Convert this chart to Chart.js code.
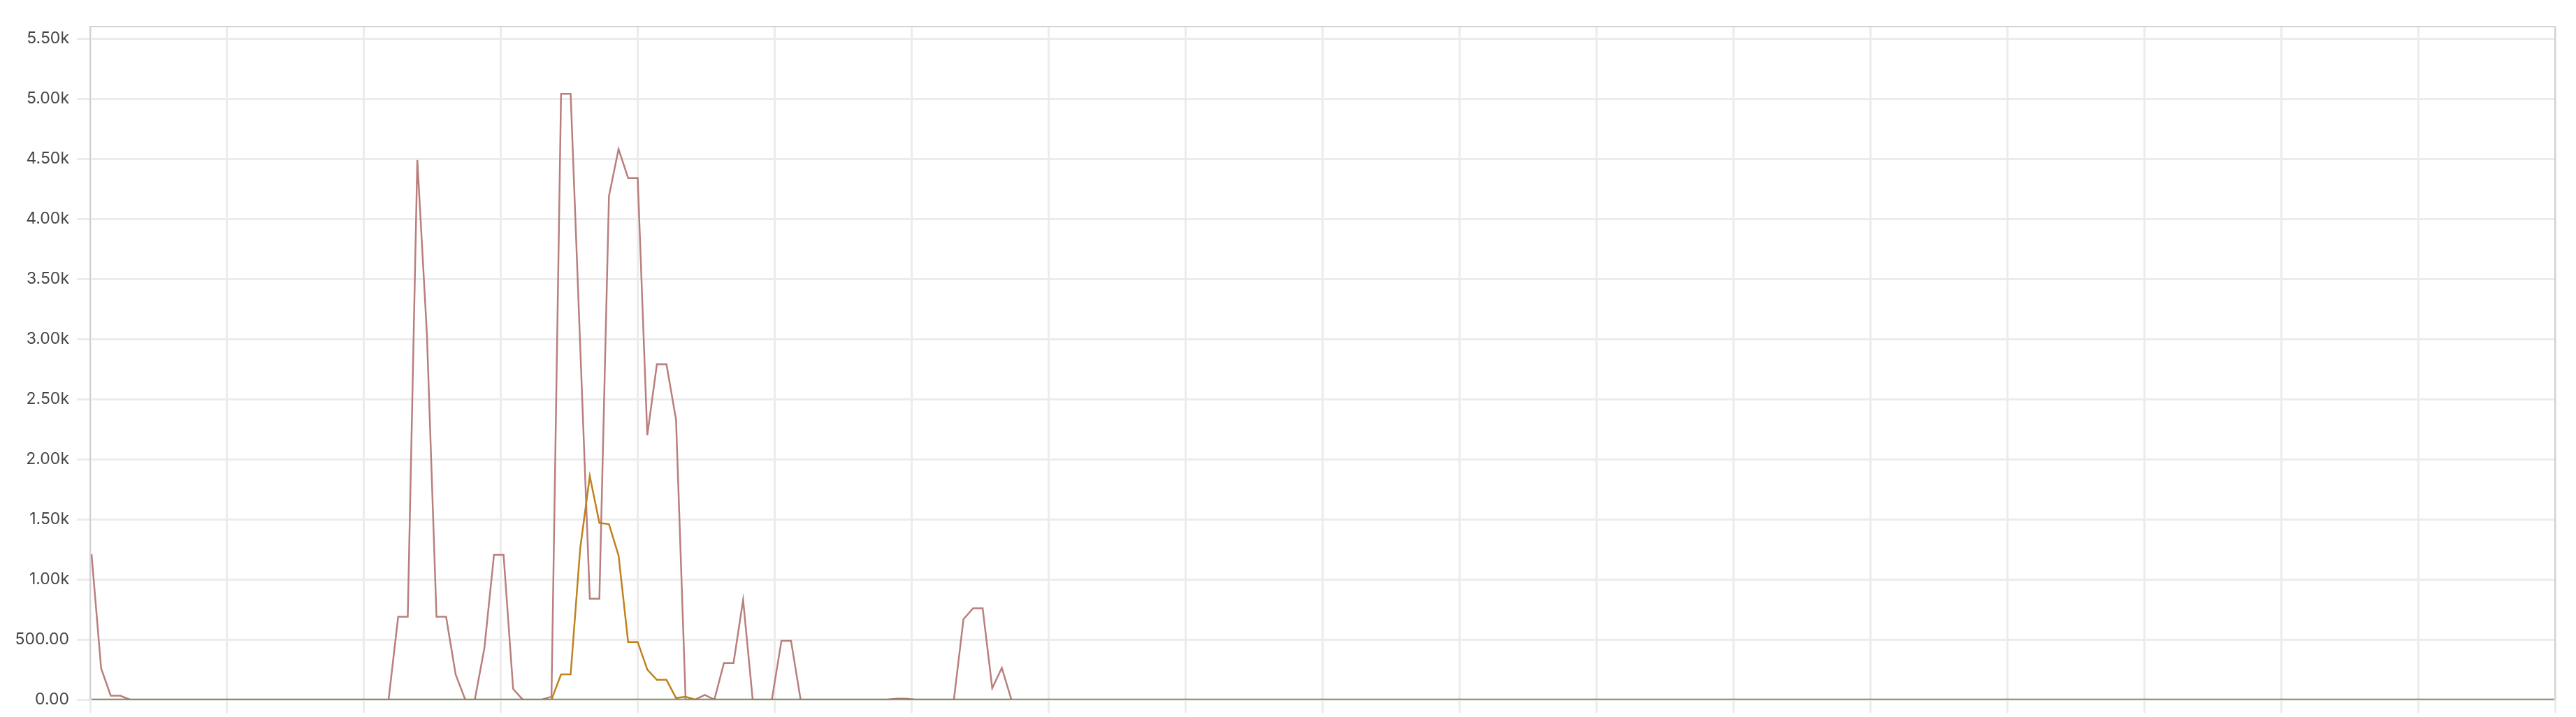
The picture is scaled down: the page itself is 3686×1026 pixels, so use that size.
<!DOCTYPE html>
<html>
<head>
<meta charset="utf-8">
<script src="https://cdn.jsdelivr.net/npm/chart.js@4/dist/chart.umd.min.js"></script>
<style>
html, body { margin: 0; padding: 0; background: #fff; }
#wrap { width: 3686px; height: 1026px; }
</style>
</head>
<body>
<div id="wrap"><canvas id="chart" width="3686" height="1026"></canvas></div>
<script>
var errorsSeries = [
    1210, 260, 33, 33, 0, 0, 0, 0, 0, 0, 0, 0, 0, 0, 0, 0, 0, 0, 0, 0,
    0, 0, 0, 0, 0, 0, 0, 0, 0, 0, 0, 0, 690, 690, 4490, 3040, 690, 690, 210, 0,
    0, 430, 1205, 1205, 90, 0, 0, 0, 25, 5040, 5040, 2940, 840, 840, 4190, 4580, 4340, 4340, 2200, 2790,
    2790, 2330, 0, 0, 40, 0, 305, 305, 830, 0, 0, 0, 490, 490, 0, 0, 0, 0, 0, 0,
    0, 0, 0, 0, 8, 8, 0, 0, 0, 0, 0, 670, 760, 760, 95, 265, 0
];
var warningsSeries = [
    0, 0, 0, 0, 0, 0, 0, 0, 0, 0, 0, 0, 0, 0, 0, 0, 0, 0, 0, 0,
    0, 0, 0, 0, 0, 0, 0, 0, 0, 0, 0, 0, 0, 0, 0, 0, 0, 0, 0, 0,
    0, 0, 0, 0, 0, 0, 0, 0, 0, 210, 210, 1260, 1860, 1470, 1460, 1200, 480, 480, 250, 165,
    165, 14, 24, 0, 0, 0, 0, 0, 0, 0, 0, 0, 0, 0, 0, 0, 0, 0, 0, 0,
    0, 0, 0, 0, 0, 0, 0, 0, 0, 0, 0, 0, 0, 0, 0, 0, 0
];
var okSeries = [
    0, 0, 0, 0, 0, 0, 0, 0, 0, 0, 0, 0, 0, 0, 0, 0, 0, 0, 0, 0, 0, 0, 0, 0, 0, 0, 0, 0, 0, 0,
    0, 0, 0, 0, 0, 0, 0, 0, 0, 0, 0, 0, 0, 0, 0, 0, 0, 0, 0, 0, 0, 0, 0, 0, 0, 0, 0, 0, 0, 0,
    0, 0, 0, 0, 0, 0, 0, 0, 0, 0, 0, 0, 0, 0, 0, 0, 0, 0, 0, 0, 0, 0, 0, 0, 0, 0, 0, 0, 0, 0,
    0, 0, 0, 0, 0, 0, 0, 0, 0, 0, 0, 0, 0, 0, 0, 0, 0, 0, 0, 0, 0, 0, 0, 0, 0, 0, 0, 0, 0, 0,
    0, 0, 0, 0, 0, 0, 0, 0, 0, 0, 0, 0, 0, 0, 0, 0, 0, 0, 0, 0, 0, 0, 0, 0, 0, 0, 0, 0, 0, 0,
    0, 0, 0, 0, 0, 0, 0, 0, 0, 0, 0, 0, 0, 0, 0, 0, 0, 0, 0, 0, 0, 0, 0, 0, 0, 0, 0, 0, 0, 0,
    0, 0, 0, 0, 0, 0, 0, 0, 0, 0, 0, 0, 0, 0, 0, 0, 0, 0, 0, 0, 0, 0, 0, 0, 0, 0, 0, 0, 0, 0,
    0, 0, 0, 0, 0, 0, 0, 0, 0, 0, 0, 0, 0, 0, 0, 0, 0, 0, 0, 0, 0, 0, 0, 0, 0, 0, 0, 0, 0, 0,
    0, 0, 0, 0, 0, 0, 0, 0, 0, 0, 0, 0, 0, 0, 0, 0, 0, 0
];
// sample index of every point
var sampleIndex = okSeries.map(function(v, i) { return i; });
var yTicks = [0, 500, 1000, 1500, 2000, 2500, 3000, 3500, 4000, 4500, 5000, 5500];

! function() {
    "use strict";
    var xMin = -0.146, xMax = 257.1, xCols = 18;

    var frame = {
        id: "frame",
        afterDatasetsDraw: function(c) {
            var a = c.chartArea, o = c.ctx;
            o.save(), o.strokeStyle = "#d2d2d2", o.lineWidth = 2;
            o.beginPath(), o.moveTo(a.left, a.bottom), o.lineTo(a.left, a.top), o.lineTo(a.right, a.top), o.lineTo(a.right, a.bottom), o.stroke();
            o.restore()
        }
    };

    var fmt = function(v) {
        return v >= 1000 ? (v / 1000).toFixed(2) + "k" : v.toFixed(2)
    };

    new Chart(document.getElementById("chart").getContext("2d"), {
        type: "line",
        data: {
            labels: sampleIndex,
            datasets: [{
                label: "ok",
                data: okSeries,
                borderColor: "#5b7a3a",
                borderWidth: 3,
                order: 0
            }, {
                label: "warning",
                data: warningsSeries,
                borderColor: "#bf821f",
                borderWidth: 2.5,
                order: 1
            }, {
                label: "error",
                data: errorsSeries,
                borderColor: "#b97f7d",
                borderWidth: 2.5,
                order: 2
            }]
        },
        options: {
            responsive: false,
            animation: false,
            devicePixelRatio: 1,
            layout: { padding: { top: 38, right: 30, left: 0, bottom: 0 } },
            elements: { point: { radius: 0 }, line: { tension: 0 } },
            plugins: { legend: { display: false }, tooltip: { enabled: false } },
            scales: {
                x: {
                    type: "linear",
                    min: xMin,
                    max: xMax,
                    afterBuildTicks: function(s) {
                        var t = [];
                        for (var i = 0; i <= xCols; i++) t.push({ value: xMin + i * (xMax - xMin) / xCols });
                        s.ticks = t
                    },
                    afterFit: function(s) { s.height = 21 },
                    ticks: { display: false },
                    grid: { color: "#ececec", lineWidth: 3, tickLength: 19, drawTicks: true },
                    border: { display: false }
                },
                y: {
                    min: 0,
                    max: 5600,
                    afterBuildTicks: function(s) {
                        s.ticks = yTicks.map(function(v) { return { value: v } })
                    },
                    afterFit: function(s) { s.width = 129 },
                    ticks: {
                        callback: fmt,
                        color: "#464646",
                        padding: 11,
                        font: { family: "Inter", size: 23 }
                    },
                    grid: { color: "#ececec", lineWidth: 3, tickLength: 19 },
                    border: { display: false }
                }
            }
        },
        plugins: [frame]
    })
}();
</script>
</body>
</html>
